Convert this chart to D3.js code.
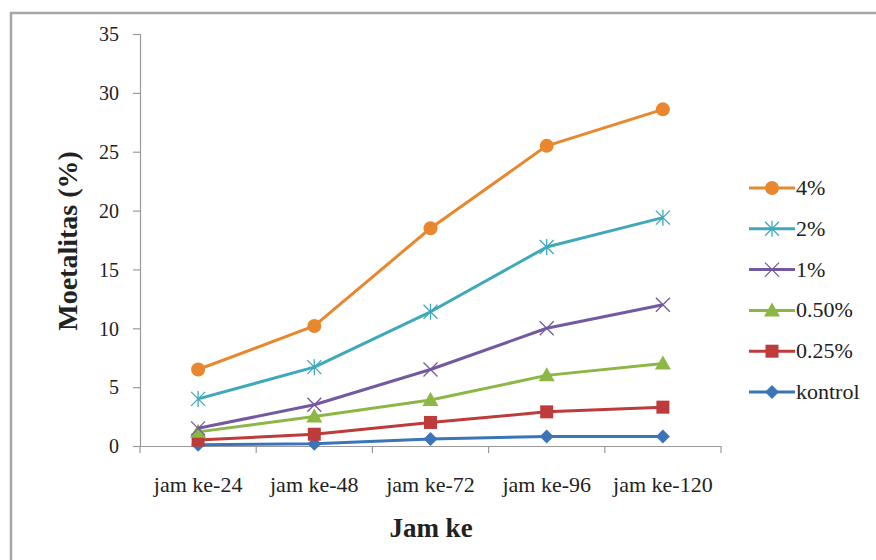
<!DOCTYPE html>
<html>
<head>
<meta charset="utf-8">
<script src="https://cdn.jsdelivr.net/npm/d3@7"></script>
<style>
  html, body { margin: 0; padding: 0; background: #fff; }
  svg { display: block; }
  svg text { font-family: "Liberation Serif", "Times New Roman", "DejaVu Serif", serif; fill: #222; }
</style>
</head>
<body>
<svg id="chart" width="876" height="560"></svg>
<script>
const categories = ["jam ke-24", "jam ke-48", "jam ke-72", "jam ke-96", "jam ke-120"];
const seriesNames = ["4%", "2%", "1%", "0.50%", "0.25%", "kontrol"];
const v4 = [6.5, 10.2, 18.5, 25.5, 28.6];
const v2 = [4.0, 6.7, 11.4, 16.9, 19.4];
const v1 = [1.5, 3.5, 6.5, 10.0, 12.0];
const v050 = [1.2, 2.5, 3.9, 6.0, 7.0];
const v025 = [0.5, 1.0, 2.0, 2.9, 3.3];
const vKontrol = [0.1, 0.2, 0.6, 0.8, 0.8];
const yTicks = [0, 5, 10, 15, 20, 25, 30, 35];
const colors = ["#E8872E", "#3FA9BB", "#7458A0", "#8DB745", "#BE3B3B", "#3C74B8"];
const markers = ["circle", "asterisk", "cross", "triangle", "square", "diamond"];
const allValues = [v4, v2, v1, v050, v025, vKontrol];

const svg = d3.select("#chart");

// outer border
svg.append("rect").attr("x", 11).attr("y", 13).attr("width", 900).attr("height", 600)
  .attr("fill", "none").attr("stroke", "#a6a6a6").attr("stroke-width", 2.5);

const plotLeft = 140, plotRight = 721, plotTop = 34, plotBottom = 446;
const x = d3.scaleBand().domain(categories).range([plotLeft, plotRight]);
const y = d3.scaleLinear().domain([0, 35]).range([plotBottom, plotTop]);

// y axis
const yAxis = svg.append("g").attr("transform", `translate(${plotLeft},0)`)
  .call(d3.axisLeft(y).tickValues(yTicks).tickSize(7).tickPadding(14));
yAxis.attr("font-family", null);
yAxis.select(".domain").attr("stroke", "#9a9a9a").attr("stroke-width", 1.2);
yAxis.selectAll(".tick line").attr("stroke", "#9a9a9a").attr("stroke-width", 1.2);
yAxis.selectAll(".tick text").style("font-size", "20px").attr("dy", "0.34em");

// x axis
const xAxis = svg.append("g").attr("transform", `translate(0,${plotBottom})`)
  .call(d3.axisBottom(x).tickSize(0).tickPadding(30));
xAxis.attr("font-family", null);
xAxis.select(".domain").attr("stroke", "#9a9a9a").attr("stroke-width", 1.2);
xAxis.selectAll(".tick text").style("font-size", "22px");
// boundary ticks
const bounds = categories.map(c => x(c)).concat([x(categories[categories.length - 1]) + x.bandwidth()]);
svg.append("g").selectAll("line").data(bounds).join("line")
  .attr("x1", d => d).attr("x2", d => d).attr("y1", plotBottom).attr("y2", plotBottom + 7)
  .attr("stroke", "#9a9a9a").attr("stroke-width", 1.2);

function drawMarker(g, type, cx, cy, color) {
  if (type === "circle") {
    g.append("circle").attr("cx", cx).attr("cy", cy).attr("r", 7).attr("fill", color);
  } else if (type === "square") {
    g.append("rect").attr("x", cx - 6.5).attr("y", cy - 6.5).attr("width", 13).attr("height", 13).attr("fill", color);
  } else if (type === "diamond") {
    g.append("path").attr("d", `M${cx},${cy - 7}L${cx + 7},${cy}L${cx},${cy + 7}L${cx - 7},${cy}Z`).attr("fill", color);
  } else if (type === "triangle") {
    g.append("path").attr("d", `M${cx},${cy - 8}L${cx + 8},${cy + 6}L${cx - 8},${cy + 6}Z`).attr("fill", color);
  } else if (type === "cross") {
    g.append("path").attr("d", `M${cx - 7},${cy - 7}L${cx + 7},${cy + 7}M${cx - 7},${cy + 7}L${cx + 7},${cy - 7}`)
      .attr("stroke", color).attr("stroke-width", 1.3).attr("fill", "none");
  } else if (type === "asterisk") {
    g.append("path").attr("d", `M${cx - 7},${cy - 7}L${cx + 7},${cy + 7}M${cx - 7},${cy + 7}L${cx + 7},${cy - 7}M${cx},${cy - 8}L${cx},${cy + 8}`)
      .attr("stroke", color).attr("stroke-width", 1.3).attr("fill", "none");
  }
}

const line = d3.line().x((d, i) => x(categories[i]) + x.bandwidth() / 2).y(d => y(d));

for (let s = allValues.length - 1; s >= 0; s--) {
  const g = svg.append("g");
  g.append("path").datum(allValues[s]).attr("d", line)
    .attr("fill", "none").attr("stroke", colors[s]).attr("stroke-width", 3).attr("stroke-linejoin", "round");
  allValues[s].forEach((v, i) => {
    drawMarker(g, markers[s], x(categories[i]) + x.bandwidth() / 2, y(v), colors[s]);
  });
}

// legend
const legY0 = 188, legStep = 40.8;
seriesNames.forEach((name, s) => {
  const ly = legY0 + s * legStep;
  const g = svg.append("g");
  g.append("line").attr("x1", 749).attr("x2", 795).attr("y1", ly).attr("y2", ly)
    .attr("stroke", colors[s]).attr("stroke-width", 3);
  drawMarker(g, markers[s], 772, ly, colors[s]);
  g.append("text").attr("x", 796).attr("y", ly + 7).text(name).style("font-size", "22px");
});

// axis titles
svg.append("text").attr("transform", "translate(77,241) rotate(-90)")
  .attr("text-anchor", "middle").style("font-size", "28px")
  .style("font-weight", "bold").text("Moetalitas (%)");
svg.append("text").attr("x", 431).attr("y", 537)
  .attr("text-anchor", "middle").style("font-size", "27px")
  .style("font-weight", "bold").text("Jam ke");
</script>
</body>
</html>
